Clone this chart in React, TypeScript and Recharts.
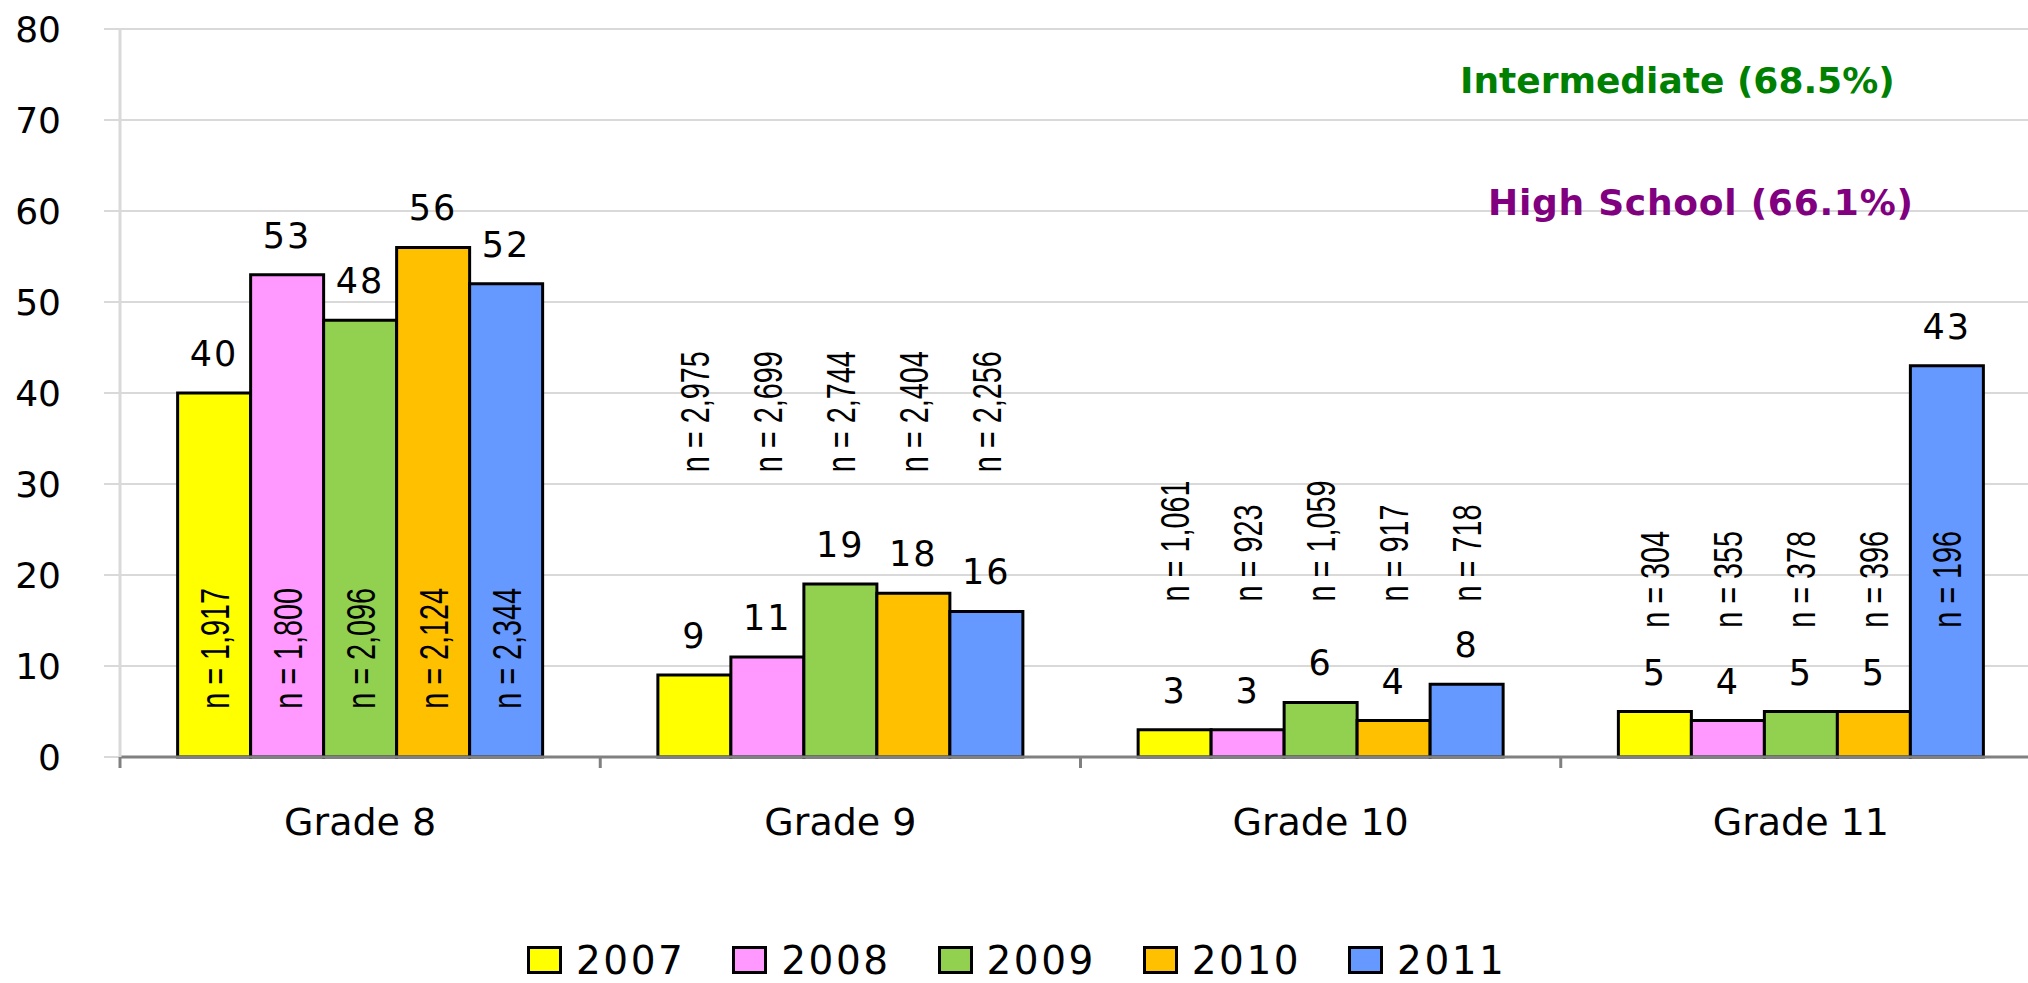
import { BarChart, Bar, XAxis, YAxis, CartesianGrid, Legend, LabelList } from 'recharts';

const grades = ['Grade 8', 'Grade 9', 'Grade 10', 'Grade 11'];
const years = ['2007', '2008', '2009', '2010', '2011'];
const colors = ['#FFFF00', '#FF99FF', '#92D050', '#FFC000', '#6699FF'];

// percent values per year, one entry per grade
const pct2007 = [40, 9, 3, 5];
const pct2008 = [53, 11, 3, 4];
const pct2009 = [48, 19, 6, 5];
const pct2010 = [56, 18, 4, 5];
const pct2011 = [52, 16, 8, 43];

// sample sizes
const n2007 = ['1,917', '2,975', '1,061', '304'];
const n2008 = ['1,800', '2,699', '923', '355'];
const n2009 = ['2,096', '2,744', '1,059', '378'];
const n2010 = ['2,124', '2,404', '917', '396'];
const n2011 = ['2,344', '2,256', '718', '196'];

// height (axis units) where the rotated n= labels start, per grade
const nLabelBase = [5.3, 31.3, 17.1, 14.2];

const yTicks = [0, 10, 20, 30, 40, 50, 60, 70, 80];

const pctByYear = [pct2007, pct2008, pct2009, pct2010, pct2011];
const nByYear = [n2007, n2008, n2009, n2010, n2011];

const data = grades.map((grade, i) => {
  const row: Record<string, string | number> = { grade };
  years.forEach((yr, k) => {
    row['p' + yr] = pctByYear[k][i];
    row['n' + yr] = nByYear[k][i];
  });
  return row;
});

const FONT = '"DejaVu Sans", Verdana, sans-serif';
const NARROW = '"Liberation Sans", Arial, sans-serif';

const makeNLabel = (vals: number[]) => (props: any) => {
  const { x, y, width, height, value, index } = props;
  const v = vals[index];
  if (!v || !height) return null;
  const base = Number(y) + Number(height);
  const perUnit = Number(height) / v;
  const cx = Number(x) + Number(width) / 2;
  const cy = base - nLabelBase[index] * perUnit;
  // narrow look: Liberation Sans squeezed along the text direction
  return (
    <text
      x={0}
      y={0}
      dy="0.36em"
      transform={`translate(${cx} ${cy}) rotate(-90) scale(0.72 1)`}
      textAnchor="start"
      fontSize={40}
      fontFamily={NARROW}
      fill="#000"
    >
      {`n = ${value}`}
    </text>
  );
};

const GradeTick = (props: any) => {
  const { x, y, payload, index } = props;
  const half = payload && payload.offset ? payload.offset : 240;
  const axisY = y - 51;
  return (
    <g>
      <line x1={x - half} x2={x - half} y1={axisY} y2={axisY + 11} stroke="#808080" strokeWidth={3} />
      {index === grades.length - 1 && (
        <line x1={x + half} x2={x + half} y1={axisY} y2={axisY + 11} stroke="#808080" strokeWidth={3} />
      )}
      <text x={x} y={y} dy={27} textAnchor="middle" fontSize={38} fontFamily={FONT} fill="#000">
        {payload.value}
      </text>
    </g>
  );
};

const renderLegend = () => (
  <div style={{ display: 'flex', alignItems: 'center', height: 46, paddingLeft: 527 }}>
    {years.map((yr, k) => (
      <div key={yr} style={{ display: 'flex', alignItems: 'center', marginRight: 47 }}>
        <span
          style={{
            display: 'inline-block',
            width: 35,
            height: 28,
            boxSizing: 'border-box',
            border: '3px solid #000',
            background: colors[k],
            marginRight: 14,
          }}
        />
        <span style={{ fontFamily: FONT, fontSize: 39, lineHeight: 1, letterSpacing: 2.5, color: '#000' }}>{yr}</span>
      </div>
    ))}
  </div>
);

export default function App() {
  return (
    <div style={{ position: 'absolute', left: 0, top: 0, width: 2028, height: 983, overflow: 'hidden', background: '#fff' }}>
      <BarChart
        width={2060}
        height={983}
        data={data}
        margin={{ top: 29, right: 19, left: 0, bottom: 0 }}
        barCategoryGap="12%"
        barGap={0}
      >
        <CartesianGrid vertical={false} stroke="#D9D9D9" strokeWidth={2} />
        <XAxis
          dataKey="grade"
          height={180}
          tickLine={false}
          tickSize={0}
          tickMargin={51}
          axisLine={{ stroke: '#808080', strokeWidth: 3 }}
          tick={<GradeTick />}
          interval={0}
        />
        <YAxis
          width={120}
          domain={[0, 80]}
          ticks={yTicks}
          tickSize={16}
          tickMargin={43}
          axisLine={{ stroke: '#D9D9D9', strokeWidth: 3 }}
          tickLine={{ stroke: '#D9D9D9', strokeWidth: 2 }}
          tick={{ fontSize: 36, fill: '#000', fontFamily: FONT }}
        />
        <Legend verticalAlign="bottom" height={46} content={renderLegend} wrapperStyle={{ left: 0, width: 2028 }} />
        {years.map((yr, k) => (
          <Bar
            key={yr}
            dataKey={'p' + yr}
            name={yr}
            fill={colors[k]}
            stroke="#000"
            strokeWidth={3}
            isAnimationActive={false}
          >
            <LabelList
              dataKey={'p' + yr}
              position="top"
              offset={27}
              fontSize={35}
              fontFamily={FONT}
              fill="#000"
              letterSpacing={2}
            />
            <LabelList dataKey={'n' + yr} content={makeNLabel(pctByYear[k])} />
          </Bar>
        ))}
      </BarChart>
      <svg width={2028} height={983} style={{ position: 'absolute', left: 0, top: 0, pointerEvents: 'none' }}>
        <text x={1460} y={93} fontSize={36} fontWeight="bold" fontFamily={FONT} fill="#008000">
          Intermediate (68.5%)
        </text>
        <text x={1488} y={215} fontSize={36} fontWeight="bold" fontFamily={FONT} fill="#800080" letterSpacing={0.75}>
          High School (66.1%)
        </text>
      </svg>
    </div>
  );
}
